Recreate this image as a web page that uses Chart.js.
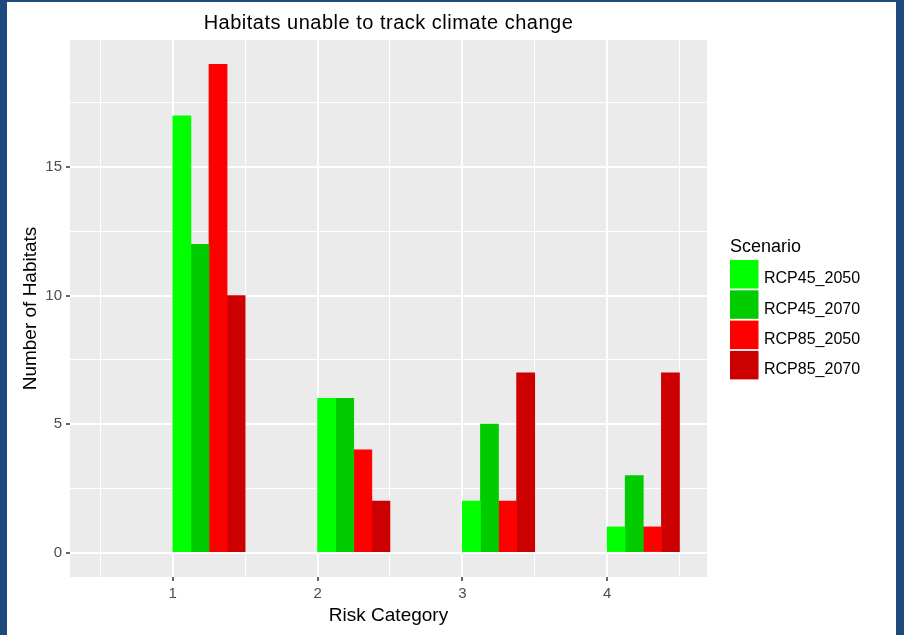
<!DOCTYPE html>
<html><head><meta charset="utf-8">
<script src="https://cdn.jsdelivr.net/npm/chart.js@4/dist/chart.umd.min.js"></script>
<style>html,body{margin:0;padding:0;background:#fff;overflow:hidden}#wrap{width:904px;height:635px;position:relative}</style>
</head><body><div id="wrap"><canvas id="c" width="904" height="635"></canvas></div>
<script>
// ---- data ----
const categories = [1, 2, 3, 4];
const seriesNames = ['RCP45_2050', 'RCP45_2070', 'RCP85_2050', 'RCP85_2070'];
const rcp45_2050 = [17, 6, 2, 1];
const rcp45_2070 = [12, 6, 5, 3];
const rcp85_2050 = [19, 4, 2, 1];
const rcp85_2070 = [10, 2, 7, 7];
const seriesColors = ['#00FF00', '#00CC00', '#FF0000', '#CC0000'];
const xBreaks = [1, 2, 3, 4];
const xMinorBreaks = [0.5, 1.5, 2.5, 3.5, 4.5];
const yBreaks = [0, 5, 10, 15];
const yMinorBreaks = [2.5, 7.5, 12.5, 17.5];
const titleText = 'Habitats unable to track climate change';
const xTitle = 'Risk Category';
const yTitle = 'Number of Habitats';
const legendTitle = 'Scenario';

const FONT = '"Liberation Sans", Arial, sans-serif';
const allSeries = [rcp45_2050, rcp45_2070, rcp85_2050, rcp85_2070];
const dodgeWidth = 0.5; // bars occupy [x, x + 0.5]
const barW = dodgeWidth / allSeries.length;

const datasets = allSeries.map((vals, k) => ({
  label: seriesNames[k],
  backgroundColor: seriesColors[k],
  borderWidth: 0,
  data: categories.map((c, i) => ({ x: c + barW * (k + 0.5), y: vals[i] }))
}));

const isMajor = (arr, v) => arr.some(b => Math.abs(b - v) < 1e-9);

const decor = {
  id: 'decor',
  beforeDraw(chart) {
    const { ctx, chartArea: a } = chart;
    ctx.save();
    ctx.fillStyle = '#ffffff';
    ctx.fillRect(0, 0, chart.width, chart.height);
    ctx.fillStyle = '#1f497d';
    ctx.fillRect(0, 0, 7, chart.height);
    ctx.fillRect(0, 0, chart.width, 2);
    ctx.fillRect(896, 0, 8, chart.height);
    ctx.fillStyle = '#EBEBEB';
    ctx.fillRect(a.left, a.top, a.right - a.left, a.bottom - a.top);
    ctx.restore();
  },
  afterDraw(chart) {
    const { ctx, chartArea: a } = chart;
    ctx.save();
    // title
    ctx.fillStyle = '#000000';
    ctx.font = '20px ' + FONT;
    ctx.textAlign = 'center';
    ctx.textBaseline = 'alphabetic';
    try { ctx.letterSpacing = '0.5px'; } catch (e) {}
    ctx.fillText(titleText, (a.left + a.right) / 2, 28.5);
    try { ctx.letterSpacing = '0px'; } catch (e) {}
    // legend
    ctx.textAlign = 'left';
    ctx.font = '18px ' + FONT;
    ctx.fillText(legendTitle, 730, 252);
    const lx = 730, ly0 = 260, step = 30.3, ks = 28.5;
    chart.data.datasets.forEach((ds, i) => {
      const y = ly0 + i * step;
      ctx.fillStyle = ds.backgroundColor;
      ctx.fillRect(lx, y, ks, ks);
      ctx.fillStyle = '#000000';
      ctx.font = '16px ' + FONT;
      ctx.fillText(ds.label, 764, y + 23.3);
    });
    ctx.restore();
  }
};

new Chart(document.getElementById('c'), {
  type: 'bar',
  data: { datasets },
  options: {
    responsive: false,
    animation: false,
    devicePixelRatio: 1,
    grouped: false,
    barPercentage: 1,
    categoryPercentage: 1,
    layout: { padding: { left: 7, top: 40, right: 197, bottom: 0 } },
    plugins: { legend: { display: false }, tooltip: { enabled: false }, title: { display: false } },
    scales: {
      x: {
        type: 'linear',
        min: 0.29, max: 4.69,
        offset: false,
        afterBuildTicks(scale) {
          scale.ticks = [...xBreaks, ...xMinorBreaks].sort((p, q) => p - q).map(v => ({ value: v }));
        },
        afterFit(scale) { scale.height = 58; },
        grid: {
          offset: false,
          color: '#ffffff',
          lineWidth: c => (c.tick && isMajor(xBreaks, c.tick.value)) ? 2 : 1,
          drawTicks: true,
          tickLength: 4,
          tickWidth: 1.5,
          tickColor: c => (c.tick && isMajor(xBreaks, c.tick.value)) ? '#333333' : 'rgba(0,0,0,0)'
        },
        border: { display: false },
        ticks: {
          autoSkip: false, maxRotation: 0, padding: 4,
          color: '#4d4d4d', font: { family: FONT, size: 15 },
          callback: v => isMajor(xBreaks, v) ? String(v) : ''
        },
        title: { display: true, text: xTitle, color: '#000000', font: { family: FONT, size: 19, lineHeight: 1.2 }, padding: { top: 0, bottom: 8 } }
      },
      y: {
        type: 'linear',
        min: -0.95, max: 19.95,
        afterBuildTicks(scale) {
          scale.ticks = [...yBreaks, ...yMinorBreaks].sort((p, q) => p - q).map(v => ({ value: v }));
        },
        afterFit(scale) { scale.width = 63; },
        grid: {
          color: '#ffffff',
          lineWidth: c => (c.tick && isMajor(yBreaks, c.tick.value)) ? 2 : 1,
          drawTicks: true,
          tickLength: 4,
          tickWidth: 1.5,
          tickColor: c => (c.tick && isMajor(yBreaks, c.tick.value)) ? '#333333' : 'rgba(0,0,0,0)'
        },
        border: { display: false },
        ticks: {
          autoSkip: false, padding: 4,
          color: '#4d4d4d', font: { family: FONT, size: 15 },
          callback: v => isMajor(yBreaks, v) ? String(v) : ''
        },
        title: { display: true, text: yTitle, color: '#000000', font: { family: FONT, size: 19, lineHeight: 1.2 }, padding: { top: 12, bottom: 0 } }
      }
    }
  },
  plugins: [decor]
});
</script>
</body></html>
